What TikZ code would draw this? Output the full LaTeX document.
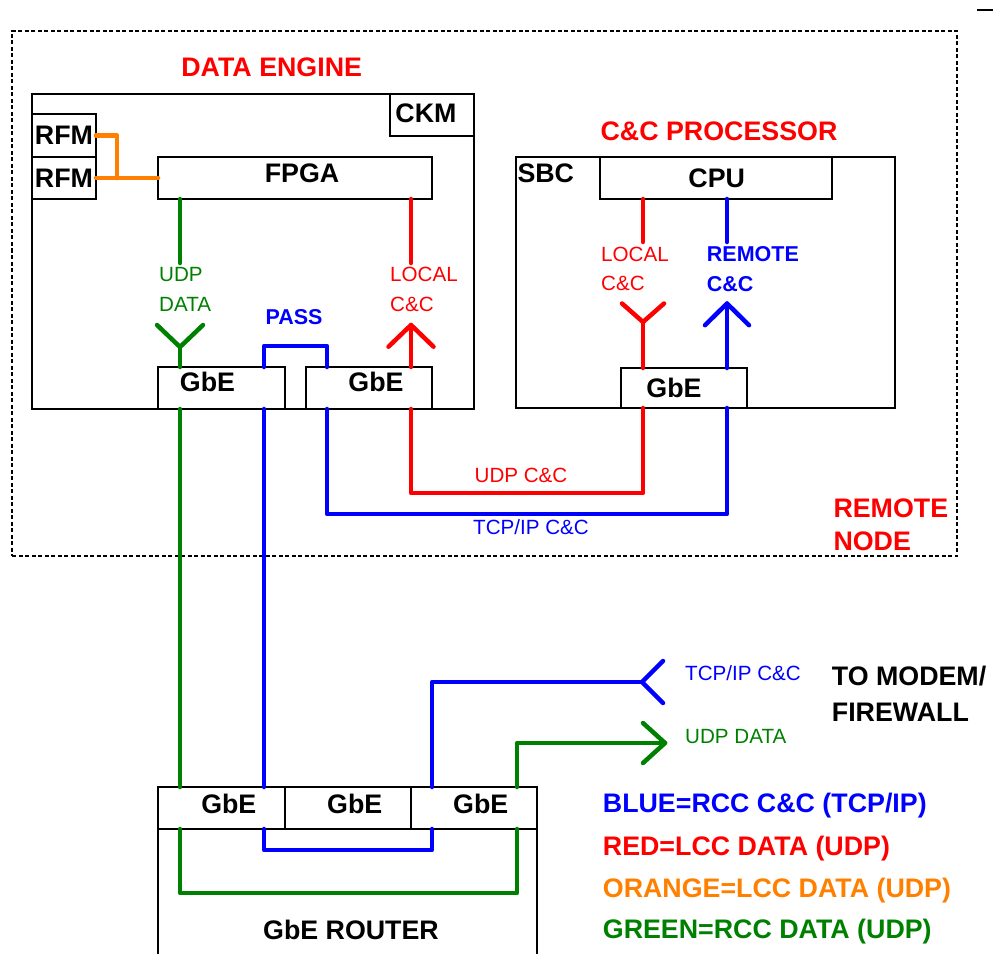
\documentclass[tikz,border=0pt]{standalone}
\usepackage{fontspec}
\setmainfont{Liberation Sans}
\definecolor{cred}{RGB}{255,0,0}
\definecolor{cblue}{RGB}{0,0,255}
\definecolor{cgreen}{RGB}{0,128,0}
\definecolor{corange}{RGB}{255,128,0}
\begin{document}
\begin{tikzpicture}[x=1pt,y=-1pt,
  box/.style={draw, line width=1.8pt, anchor=north west, inner sep=0pt, outer sep=0pt},
  wire/.style={line width=4.5pt, line cap=round, line join=round},
  big/.style={font=\fontsize{26.8}{31}\selectfont\bfseries, inner sep=0pt},
  mid/.style={font=\fontsize{21.5}{29.7}\selectfont\bfseries, inner sep=0pt},
  reg/.style={font=\fontsize{20.6}{29.7}\selectfont, inner sep=0pt}]
\useasboundingbox (0,0) rectangle (995,953);

% ---------- boxes ----------
\node[box, dashed, dash pattern=on 4pt off 2.5pt, line width=1.4pt,
      minimum width=945pt, minimum height=525pt] (remote) at (12,31) {};
\node[box, minimum width=442pt, minimum height=315pt] (engine) at (32,94) {};
\node[box, minimum width=84pt, minimum height=42pt] (ckm) at (390,94) {};
\node[box, big, minimum width=64pt, minimum height=43pt] (rfm1) at (32,114) {RFM};
\node[box, big, minimum width=64pt, minimum height=42pt] (rfm2) at (32,157) {RFM};
\node[box, minimum width=274pt, minimum height=42pt] (fpga) at (158,157) {};
\node[box, minimum width=127pt, minimum height=42pt] (gbe1) at (158,367) {};
\node[box, minimum width=126pt, minimum height=42pt] (gbe2) at (306,367) {};
\node[box, minimum width=379pt, minimum height=251pt] (sbc) at (516,157) {};
\node[box, minimum width=232pt, minimum height=42pt] (cpu) at (600,157) {};
\node[box, minimum width=126pt, minimum height=40pt] (gbe3) at (621,368) {};
\node[box, minimum width=379pt, minimum height=180pt] (router) at (158,787) {};
\node[box, minimum width=127pt, minimum height=42pt] (r1) at (158,787) {};
\node[box, minimum width=126pt, minimum height=42pt] (r2) at (285,787) {};
\node[box, minimum width=126pt, minimum height=42pt] (r3) at (411,787) {};

\draw[line width=2pt] (977,10) -- (993,10);

% ---------- coordinates ----------
\coordinate (oj) at (117,178);
\coordinate (gstub) at (180,263);
\coordinate (gfork) at (180,347);
\coordinate (rstub) at (411,263);
\coordinate (rtip) at (411,325);
\coordinate (pA) at (264,346);
\coordinate (pB) at (327,346);
\coordinate (udpL) at (411,493);
\coordinate (udpR) at (643,493);
\coordinate (tcpL) at (327,514);
\coordinate (tcpR) at (727,514);
\coordinate (s0) at (643,242);
\coordinate (sfork) at (643,322);
\coordinate (b0) at (727,242);
\coordinate (btip) at (727,303.5);
\coordinate (rb1) at (264,850);
\coordinate (rb2) at (432,850);
\coordinate (rg1) at (180,893);
\coordinate (rg2) at (517,893);
\coordinate (ob) at (432,682);
\coordinate (tcpY) at (642,682);
\coordinate (og) at (517,743);
\coordinate (udpTip) at (665,743);

% ---------- orange ----------
\draw[wire,corange] (rfm1.east) -| (oj);
\draw[wire,corange] (rfm2.east) -- (fpga.west);

% ---------- green ----------
\draw[wire,cgreen] (fpga.south -| gstub) -- (gstub);
\draw[wire,cgreen] (gbe1.north -| gfork) -- (gfork);
\draw[wire,cgreen] (gfork) ++(-23,-22) -- (gfork) -- ++(23,-22);
\draw[wire,cgreen] (gbe1.south -| gfork) -- (r1.north -| gfork);
\draw[wire,cgreen] (r1.south -| rg1) -- (rg1) -- (rg2) -- (r3.south -| rg2);
\draw[wire,cgreen] (r3.north -| og) -- (og) -- (udpTip);
\draw[wire,cgreen] (udpTip) ++(-22,-20) -- (udpTip) -- ++(-22,20);

% ---------- red ----------
\draw[wire,cred] (fpga.south -| rstub) -- (rstub);
\draw[wire,cred] (gbe2.north -| rtip) -- (rtip);
\draw[wire,cred] (rtip) ++(-22.5,21.7) -- (rtip) -- ++(22.5,21.7);
\draw[wire,cred] (gbe2.south -| udpL) -- (udpL) -- (udpR) -- (gbe3.south -| udpR);
\draw[wire,cred] (cpu.south -| s0) -- (s0);
\draw[wire,cred] (gbe3.north -| sfork) -- (sfork);
\draw[wire,cred] (sfork) ++(-21,-18.5) -- (sfork) -- ++(21,-18.5);

% ---------- blue ----------
\draw[wire,cblue] (gbe1.north -| pA) -- (pA) -- (pB) -- (gbe2.north -| pB);
\draw[wire,cblue] (gbe1.south -| pA) -- (r1.north -| pA);
\draw[wire,cblue] (gbe2.south -| tcpL) -- (tcpL) -- (tcpR) -- (gbe3.south -| tcpR);
\draw[wire,cblue] (cpu.south -| b0) -- (b0);
\draw[wire,cblue] (gbe3.north -| btip) -- (btip);
\draw[wire,cblue] (btip) ++(-22,21.7) -- (btip) -- ++(22,21.7);
\draw[wire,cblue] (r1.south -| rb1) -- (rb1) -- (rb2) -- (r3.south -| rb2);
\draw[wire,cblue] (r3.north -| ob) -- (ob) -- (tcpY);
\draw[wire,cblue] (tcpY) ++(21,-21) -- (tcpY) -- ++(21,21);

% ---------- texts ----------
\node[big, text=cred] (tDE) at (271.7,67.5) {DATA ENGINE};
\node[big] (tCKM) at (426,113.3) {CKM};
\node[big] (tFPGA) at (302,173.3) {FPGA};
\node[big] (tG1) at (207.5,382) {GbE};
\node[big] (tG2) at (376,382) {GbE};
\node[reg, text=cgreen, align=left, anchor=west] (tUDPd) at (159,289.2) {UDP\\DATA};
\node[reg, text=cred, align=left, anchor=west] (tLOC1) at (390,289.5) {LOCAL\\C\&C};
\node[mid, text=cblue] (tPASS) at (294,317.3) {PASS};

\node[big, text=cred] (tCCP) at (719,131.2) {C\&C PROCESSOR};
\node[big, anchor=west] (tSBC) at (517.3,173.3) {SBC};
\node[big] (tCPU) at (716.7,178.3) {CPU};
\node[reg, text=cred, align=left, anchor=west] (tLOC2) at (601,268.8) {LOCAL\\C\&C};
\node[mid, text=cblue, align=left, anchor=west] (tREM) at (706.7,268.8) {REMOTE\\C\&C};
\node[big] (tG3) at (674,388) {GbE};

\node[reg, text=cred] (tUDPcc) at (521,475) {UDP C\&C};
\node[reg, text=cblue] (tTCPcc) at (531,527) {TCP/IP C\&C};
\node[big, text=cred, align=left, anchor=west, font=\fontsize{26.8}{33.4}\selectfont\bfseries] (tRN) at (833.3,525) {REMOTE\\NODE};

\node[reg, text=cblue, anchor=west] (tTCPo) at (685,673.3) {TCP/IP C\&C};
\node[reg, text=cgreen, anchor=west] (tUDPo) at (685,736.7) {UDP DATA};
\node[big, align=left, anchor=west, font=\fontsize{26.8}{36}\selectfont\bfseries] (tTM) at (831.7,693.7) {TO MODEM/\\FIREWALL};

\node[big] (tR1) at (228.8,804) {GbE};
\node[big] (tR2) at (354.7,804) {GbE};
\node[big] (tR3) at (480.7,804) {GbE};
\node[big] (tRT) at (351,930) {GbE ROUTER};

\node[big, text=cblue, anchor=base west] (lg1) at (602.7,812.8) {BLUE=RCC C\&C (TCP/IP)};
\node[big, text=cred, anchor=base west] (lg2) at (602.7,855.3) {RED=LCC DATA (UDP)};
\node[big, text=corange, anchor=base west] (lg3) at (602.7,897) {ORANGE=LCC DATA (UDP)};
\node[big, text=cgreen, anchor=base west] (lg4) at (602.7,938.7) {GREEN=RCC DATA (UDP)};
\end{tikzpicture}
\end{document}
